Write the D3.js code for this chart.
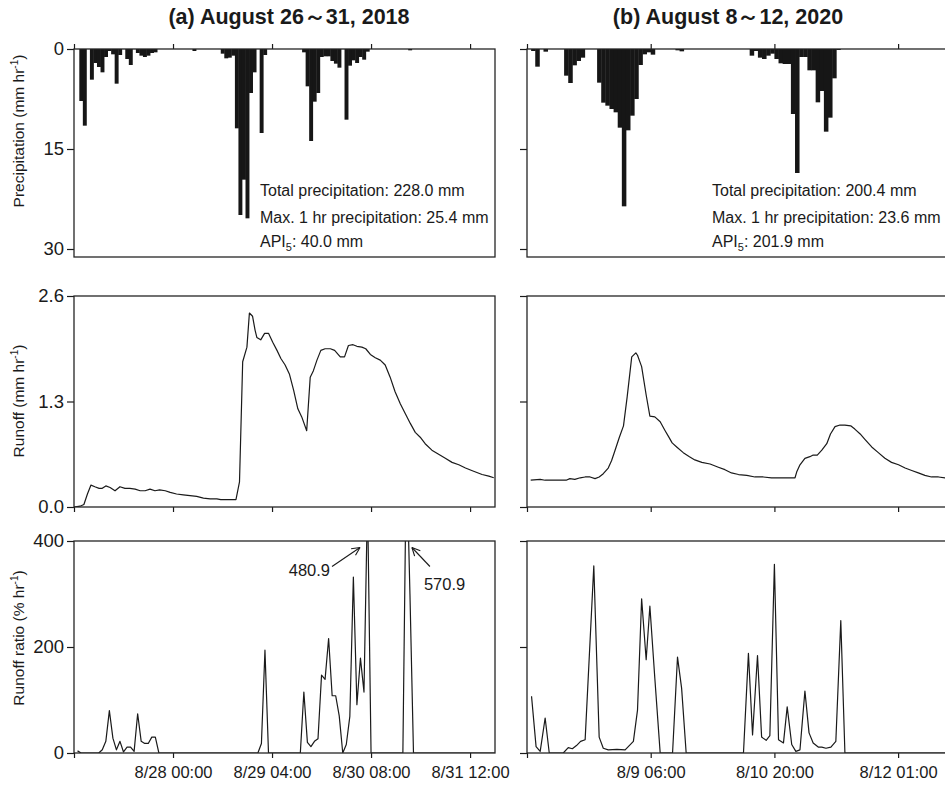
<!DOCTYPE html>
<html><head><meta charset="utf-8">
<script src="https://cdn.jsdelivr.net/npm/d3@7"></script>
<style>
body{margin:0;background:#fff;}
svg{display:block;font-family:"Liberation Sans",Arial,Helvetica,sans-serif;}
</style>
</head><body>
<svg id="chart" width="945" height="786"></svg>
<script>
// ---------------- DATA ----------------
const panelTitles = ["(a) August 26\uFF5E31, 2018", "(b) August 8\uFF5E12, 2020"];

// x axis: hours from start of each event
const leftTickHours = [0, 28, 56, 84, 112];
const leftTickLabels = ["", "8/28 00:00", "8/29 04:00", "8/30 08:00", "8/31 12:00"];
const rightTickHours = [0, 30, 60, 90];
const rightTickLabels = ["", "8/9 06:00", "8/10 20:00", "8/12 01:00"];

const precipTicks = [0, 15, 30];
const runoffTicks = [0, 1.3, 2.6];
const ratioTicks = [0, 200, 400];
const runoffTickLabels = ["0.0", "1.3", "2.6"];

// (a) hourly precipitation (mm/hr)
const leftPrecipHour = [2,3,5,6,7,8,9,10,11,12,13,15,16,18,19,20,21,22,23,34,
  42,43,44,45,46,47,48,49,50,51,53,54,
  65,66,67,68,69,70,71,72,73,74,75,77,78,79,80,81,82,83,95];
const leftPrecipMm = [7.8,11.5,4.6,2.1,2.7,3.5,1.2,0.3,0.8,5.2,0.9,1.5,2.4,0.6,1.0,1.2,1.0,0.6,0.5,0.3,
  0.7,1.4,1.3,1.0,11.9,24.9,19.6,25.4,6.6,3.5,12.6,0.9,
  0.5,5.6,13.8,7.9,6.6,1.2,1.1,1.1,1.8,2.2,2.8,10.6,2.5,1.7,2.1,1.2,1.6,0.4,0.2];

// (b) hourly precipitation (mm/hr)
const rightPrecipHour = [1,2,4,9,10,11,12,13,17,18,19,20,21,22,23,24,25,26,27,28,29,30,36,37,
  54,55,56,57,58,59,60,61,62,63,64,65,66,67,68,69,70,71,72,73,74,75];
const rightPrecipMm = [0.3,2.65,0.4,4.0,5.1,2.45,1.8,1.3,5.05,8.05,8.5,9.0,9.5,11.8,23.6,12.2,10.0,7.5,2.4,0.8,0.5,0.85,0.2,0.35,
  1.0,0.3,1.3,1.5,1.0,0.7,1.5,2.15,2.25,2.25,9.75,18.6,1.2,1.2,3.2,3.2,8.0,6.3,12.4,10.3,4.4,0.15];

// (a) runoff (mm/hr)
const leftRunoffHour = [0,1.7,2.8,3.8,4.8,5.9,7.1,8,9,10.2,11.6,13,14.4,15.8,17.3,18.7,20.1,21.5,22.9,24.2,25.8,27.2,29,30.9,32.8,34.7,36.6,38.5,40.4,41.5,43.2,45.8,
  46.8,47.7,48.9,49.6,50.5,51.2,51.7,52.8,53.9,55,56.2,57.4,58.5,59.7,60.9,62.1,63.3,64.4,65.8,66.8,67.7,68.7,69.8,71,72.5,73.7,75.3,76.5,77.6,78.9,80,81.4,82.5,83.8,85.2,86.6,88,89.4,90.8,92.3,93.7,95.1,96.5,97.9,99.3,101.2,103.1,105,106.9,108.8,110.7,113,115.4,117.3,118.7];
const leftRunoffMm = [0,0.01,0.03,0.16,0.27,0.25,0.23,0.23,0.26,0.24,0.2,0.25,0.23,0.23,0.22,0.2,0.2,0.22,0.2,0.21,0.2,0.18,0.16,0.15,0.14,0.13,0.11,0.1,0.1,0.09,0.09,0.09,
  0.31,1.79,1.97,2.39,2.35,2.18,2.09,2.06,2.14,2.14,2.03,1.93,1.83,1.75,1.64,1.44,1.21,1.11,0.94,1.6,1.68,1.81,1.93,1.95,1.95,1.93,1.85,1.85,1.99,2.0,1.98,1.97,1.95,1.88,1.84,1.81,1.75,1.6,1.42,1.27,1.15,1.03,0.92,0.86,0.78,0.7,0.65,0.6,0.55,0.52,0.48,0.44,0.4,0.38,0.36];

// (b) runoff (mm/hr)
const rightRunoffHour = [0.9,3.2,4.4,9.5,10.4,11.6,12.9,14.1,15.3,16.5,17.5,18.5,19.7,20.5,21.3,22.4,23.4,24.3,25.4,26.4,26.8,27.8,28.9,29.8,31,32.3,33.5,34.3,35.2,36.3,37.9,39.4,40.7,42.4,44.4,46.4,48,49.6,51.3,53.3,55.3,57.3,59.3,65,
  65.4,66.2,67.4,68.6,69.4,70.4,71.5,72.7,73.6,74.7,75.9,77.1,78.5,79.5,80.8,82,83.6,85.2,86.8,88.4,90.1,91.7,93.3,94.9,96.5,98.1,99.8,101.4];
const rightRunoffMm = [0.33,0.34,0.33,0.33,0.35,0.34,0.36,0.37,0.37,0.35,0.37,0.41,0.48,0.57,0.69,0.86,1.0,1.36,1.85,1.9,1.87,1.73,1.38,1.12,1.11,1.05,0.94,0.87,0.79,0.74,0.67,0.62,0.58,0.55,0.53,0.49,0.46,0.42,0.4,0.39,0.37,0.37,0.36,0.36,
  0.43,0.52,0.6,0.62,0.64,0.64,0.7,0.78,0.9,0.99,1.01,1.01,1.0,0.96,0.9,0.83,0.74,0.67,0.6,0.55,0.52,0.48,0.45,0.42,0.39,0.37,0.37,0.36];

// (a) runoff ratio (%/hr)
const leftRatioHour = [1,2,7,8,9,10,11,12,13,14,15,16,17,18,19,20,21,22,23,24,52,53,54,55,64,65,66,67,68,69,70,71,72,73,74,75,76,77,78,79,80,81,82,83,84,93,94,95,96,119];
const leftRatioPct = [4,0,0,6,22,80,28,6,22,2,11,11,3,74,22,18,18,30,30,0,0,18,194,0,0,115,20,12,22,27,147,139,216,108,108,70,0,16,69,332,91,179,115,480.9,0,0,570.9,300,0,0];

// (b) runoff ratio (%/hr)
const rightRatioHour = [1.1,2.2,3.2,4.4,5.4,8.8,10,11,12,13,14.1,16.2,17.5,18.5,19.7,21.8,23.8,25.8,26.8,27.8,28.9,29.8,31,32.3,35.3,36.5,37.5,38.6,
  52.5,53.7,54.7,55.9,56.9,58,58.9,60,61,62.2,63.1,64.2,65.2,66.2,67.4,68.4,69.4,70.7,71.5,72.5,73.7,74.9,76.1,77.1,101.9];
const rightRatioPct = [107,12,3,66,0,0,10,8,14,22,25,353,30,9,6,7,6,22,81,291,176,277,141,0,0,181,122,0,
  0,188,34,184,30,24,33,356,25,19,87,16,3,6,117,38,19,11,11,9,11,22,250,0,0];

const precipNotes = [
  ["Total precipitation: 228.0 mm", "Max. 1 hr precipitation: 25.4 mm", "40.0 mm"],
  ["Total precipitation: 200.4 mm", "Max. 1 hr precipitation: 23.6 mm", "201.9 mm"]
];
const offScaleHours = [83, 94]; // runoff-ratio peaks above the 400 axis limit

// ---------------- LAYOUT ----------------
const ink = "#1a1a1a";
const svg = d3.select("#chart");
const cols = [
  {x0: 74, x1: 495, domain: [0, 119.05], ticks: leftTickHours, labels: leftTickLabels, showY: true, barOff: -0.5,
   pH: leftPrecipHour, pV: leftPrecipMm, rH: leftRunoffHour, rV: leftRunoffMm, qH: leftRatioHour, qV: leftRatioPct,
   title: panelTitles[0], titleX: 289, notes: precipNotes[0], noteX: 260},
  {x0: 527, x1: 948, domain: [0, 102.1], ticks: rightTickHours, labels: rightTickLabels, showY: false, barOff: 0,
   pH: rightPrecipHour, pV: rightPrecipMm, rH: rightRunoffHour, rV: rightRunoffMm, qH: rightRatioHour, qV: rightRatioPct,
   title: panelTitles[1], titleX: 728, notes: precipNotes[1], noteX: 712}
];
const rowsDef = {
  precip: {y0: 49, y1: 257, domain: [0, 31.2], ticks: precipTicks, fmt: d => String(d), label: "Precipitation (mm hr", labelY: 131},
  runoff: {y0: 296, y1: 507, domain: [2.6, 0], ticks: runoffTicks, fmt: (d,i) => runoffTickLabels[i], label: "Runoff (mm hr", labelY: 401},
  ratio:  {y0: 541, y1: 753, domain: [400, 0], ticks: ratioTicks, fmt: d => String(d), label: "Runoff ratio (% hr", labelY: 638}
};

function styleAxis(g, fontSize) {
  g.select(".domain").remove();
  g.selectAll(".tick line").attr("stroke", ink).attr("stroke-width", 1.2);
  g.selectAll(".tick text").attr("fill", ink).attr("font-size", fontSize)
    .attr("font-family", '"Liberation Sans",Arial,Helvetica,sans-serif');
}

cols.forEach((c, ci) => {
  const x = d3.scaleLinear().domain(c.domain).range([c.x0, c.x1]);

  // title
  svg.append("text").attr("x", c.titleX).attr("y", 24).attr("text-anchor", "middle")
    .attr("font-size", 21.5).attr("font-weight", "bold").attr("fill", ink).text(c.title);

  Object.entries(rowsDef).forEach(([key, r]) => {
    const y = d3.scaleLinear().domain(r.domain).range([r.y0, r.y1]);
    const g = svg.append("g");
    const clipId = "clip" + ci + key;
    svg.append("clipPath").attr("id", clipId).append("rect")
      .attr("x", c.x0).attr("y", r.y0).attr("width", c.x1 - c.x0).attr("height", r.y1 - r.y0);

    // y axis
    const ya = g.append("g").attr("transform", `translate(${c.x0},0)`)
      .call(d3.axisLeft(y).tickValues(r.ticks).tickSize(7).tickPadding(3)
        .tickFormat(c.showY ? r.fmt : () => ""));
    styleAxis(ya, 18.5);

    // x axis
    if (key === "precip") {
      const xa = g.append("g").attr("transform", `translate(0,${r.y0})`)
        .call(d3.axisTop(x).tickValues(c.ticks).tickSize(5).tickFormat(() => ""));
      styleAxis(xa, 16);
    } else {
      const xa = g.append("g").attr("transform", `translate(0,${r.y1})`)
        .call(d3.axisBottom(x).tickValues(c.ticks).tickSize(5).tickPadding(8)
          .tickFormat(key === "ratio" ? (d, i) => c.labels[i] : () => ""));
      styleAxis(xa, 16.5);
    }

    const plot = g.append("g").attr("clip-path", `url(#${clipId})`);
    if (key === "precip") {
      plot.selectAll("rect.bar").data(c.pH.map((h, i) => ({h, v: c.pV[i]}))).join("rect")
        .attr("class", "bar")
        .attr("x", d => x(d.h + c.barOff))
        .attr("width", d => x(d.h + c.barOff + 1) - x(d.h + c.barOff) + 0.4)
        .attr("y", y(0))
        .attr("height", d => y(d.v) - y(0))
        .attr("fill", "#161616");
    } else {
      const H = key === "runoff" ? c.rH : c.qH;
      const V = key === "runoff" ? c.rV : c.qV;
      const line = d3.line().x(d => x(d[0])).y(d => y(d[1]));
      plot.append("path").datum(H.map((h, i) => [h, V[i]]))
        .attr("d", line).attr("fill", "none").attr("stroke", "#1a1a1a")
        .attr("stroke-width", 1.2).attr("stroke-linejoin", "round");
    }

    // frame
    g.append("rect").attr("x", c.x0).attr("y", r.y0).attr("width", c.x1 - c.x0).attr("height", r.y1 - r.y0)
      .attr("fill", "none").attr("stroke", "#262626").attr("stroke-width", 1.3);

    // y label
    if (c.showY) {
      const t = svg.append("text").attr("transform", `translate(24,${r.labelY}) rotate(-90)`)
        .attr("text-anchor", "middle").attr("font-size", 15.5).attr("fill", ink);
      t.append("tspan").text(r.label);
      t.append("tspan").attr("font-size", 10).attr("dy", -6).text("-1");
      t.append("tspan").attr("dy", 6).text(")");
    }

    // precipitation notes
    if (key === "precip") {
      const base = [196, 222.5, 246.5];
      svg.append("text").attr("x", c.noteX).attr("y", base[0]).attr("font-size", 16).attr("fill", ink).text(c.notes[0]);
      svg.append("text").attr("x", c.noteX).attr("y", base[1]).attr("font-size", 16).attr("fill", ink).text(c.notes[1]);
      const t3 = svg.append("text").attr("x", c.noteX).attr("y", base[2]).attr("font-size", 16).attr("fill", ink);
      t3.append("tspan").text("API");
      t3.append("tspan").attr("font-size", 11).attr("dy", 4).text("5");
      t3.append("tspan").attr("dy", -4).text(": " + c.notes[2]);
    }

    // off-scale annotations
    if (key === "ratio" && ci === 0) {
      const top = y(400);
      offScaleHours.forEach((h, k) => {
        const v = c.qV[c.qH.indexOf(h)];
        const dir = k === 0 ? -1 : 1;
        const tip = [x(h) + dir * (k === 0 ? 7.5 : 5.5), top + 6.5];
        const tail = k === 0 ? [tip[0] - 28, tip[1] + 19] : [tip[0] + 18, tip[1] + 19];
        svg.append("line").attr("x1", tail[0]).attr("y1", tail[1]).attr("x2", tip[0]).attr("y2", tip[1])
          .attr("stroke", ink).attr("stroke-width", 1.1);
        const ang = Math.atan2(tip[1] - tail[1], tip[0] - tail[0]);
        [0.45, -0.45].forEach(a => {
          svg.append("line").attr("x1", tip[0]).attr("y1", tip[1])
            .attr("x2", tip[0] - 9 * Math.cos(ang + a)).attr("y2", tip[1] - 9 * Math.sin(ang + a))
            .attr("stroke", ink).attr("stroke-width", 1.1);
        });
        const label = d3.format(".1f")(v);
        if (k === 0) {
          svg.append("text").attr("x", tail[0] - 2).attr("y", tail[1] + 9).attr("text-anchor", "end")
            .attr("font-size", 16.5).attr("fill", ink).text(label);
        } else {
          svg.append("text").attr("x", tail[0] - 6).attr("y", tail[1] + 23).attr("text-anchor", "start")
            .attr("font-size", 16.5).attr("fill", ink).text(label);
        }
      });
    }
  });
});
</script>
</body></html>
